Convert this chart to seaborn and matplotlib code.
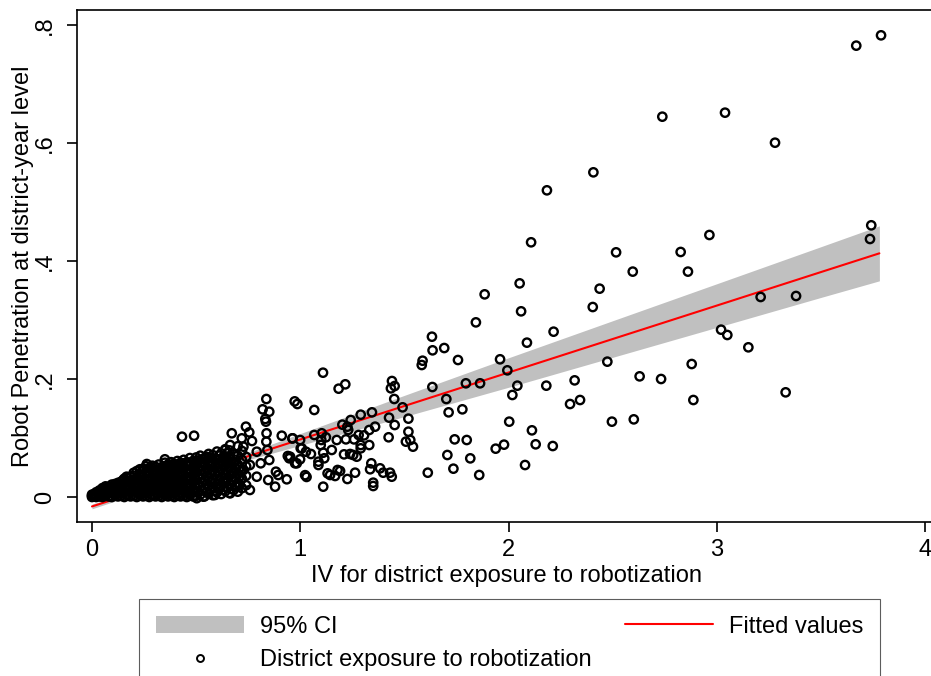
import matplotlib
matplotlib.use("Agg")
import matplotlib.pyplot as plt
import seaborn as sns
import pandas as pd
from matplotlib.patches import Patch
from matplotlib.lines import Line2D

sns.set_theme(style="ticks")
plt.rcParams['font.family'] = ['Liberation Sans', 'DejaVu Sans']
plt.rcParams.update({'axes.edgecolor': 'black', 'text.color': 'black',
                     'xtick.color': 'black', 'ytick.color': 'black',
                     'axes.labelcolor': 'black'})

# ---------------- data ----------------
# dense cluster near the origin (column by column)
dense_x = [0.000, 0.000, 0.000, 0.010, 0.010, 0.020, 0.020, 0.020,
           0.035, 0.035, 0.035, 0.050, 0.050, 0.050, 0.050,
           0.065, 0.065, 0.065, 0.065, 0.080, 0.080, 0.080, 0.080,
           0.095, 0.095, 0.095, 0.095, 0.110, 0.110, 0.110, 0.110,
           0.125, 0.125, 0.125, 0.125, 0.140, 0.140, 0.140, 0.140,
           0.155, 0.155, 0.155, 0.155, 0.155, 0.170, 0.170, 0.170, 0.170, 0.170,
           0.185, 0.185, 0.185, 0.185, 0.185,
           0.200, 0.200, 0.200, 0.200, 0.200, 0.200,
           0.215, 0.215, 0.215, 0.215, 0.215, 0.215,
           0.230, 0.230, 0.230, 0.230, 0.230, 0.230,
           0.245, 0.245, 0.245, 0.245, 0.245, 0.245,
           0.260, 0.260, 0.260, 0.260, 0.260, 0.260,
           0.275, 0.275, 0.275, 0.275, 0.275, 0.275,
           0.290, 0.290, 0.290, 0.290, 0.290, 0.290,
           0.305, 0.305, 0.305, 0.305, 0.305, 0.305,
           0.320, 0.320, 0.320, 0.320, 0.320, 0.320,
           0.335, 0.335, 0.335, 0.335, 0.335, 0.335,
           0.350, 0.350, 0.350, 0.350, 0.350, 0.350,
           0.365, 0.365, 0.365, 0.365, 0.365, 0.365,
           0.380, 0.380, 0.380, 0.380, 0.380, 0.380,
           0.395, 0.395, 0.395, 0.395, 0.395, 0.395,
           0.410, 0.410, 0.410, 0.410, 0.410, 0.410,
           0.425, 0.425, 0.425, 0.425, 0.425, 0.425,
           0.440, 0.440, 0.440, 0.440, 0.440, 0.440,
           0.455, 0.455, 0.455, 0.455, 0.455, 0.455,
           0.470, 0.470, 0.470, 0.470, 0.470, 0.470,
           0.485, 0.485, 0.485, 0.485, 0.485, 0.485,
           0.500, 0.500, 0.500, 0.500, 0.500, 0.500,
           0.520, 0.520, 0.520, 0.520, 0.520, 0.520,
           0.540, 0.540, 0.540, 0.540, 0.540, 0.540,
           0.560, 0.560, 0.560, 0.560, 0.560, 0.560,
           0.580, 0.580, 0.580, 0.580, 0.580, 0.580,
           0.600, 0.600, 0.600, 0.600, 0.600, 0.600,
           0.620, 0.620, 0.620, 0.620, 0.620, 0.620,
           0.640, 0.640, 0.640, 0.640, 0.640, 0.640,
           0.660, 0.660, 0.660, 0.660, 0.660, 0.660,
           0.680, 0.680, 0.680, 0.680, 0.680,
           0.700, 0.700, 0.700, 0.700, 0.700, 0.700,
           0.720, 0.720, 0.720, 0.720, 0.720,
           0.740, 0.740, 0.740, 0.740,
           # in-between columns
           0.3125, 0.3125, 0.3125, 0.3125,
           0.3425, 0.3425, 0.3425, 0.3425, 0.3425,
           0.3725, 0.3725, 0.3725, 0.3725, 0.3725,
           0.4025, 0.4025, 0.4025, 0.4025, 0.4025,
           0.4325, 0.4325, 0.4325, 0.4325, 0.4325,
           0.4625, 0.4625, 0.4625, 0.4625, 0.4625,
           0.4925, 0.4925, 0.4925, 0.4925, 0.4925,
           0.510, 0.510, 0.510, 0.510, 0.510,
           0.530, 0.530, 0.530, 0.530, 0.530,
           0.550, 0.550, 0.550, 0.550, 0.550,
           0.570, 0.570, 0.570, 0.570, 0.570,
           0.590, 0.590, 0.590, 0.590, 0.590,
           0.610, 0.610, 0.610, 0.610, 0.610,
           0.630, 0.630, 0.630, 0.630, 0.630,
           0.650, 0.650, 0.650, 0.650, 0.650,
           0.670, 0.670, 0.670, 0.670,
           0.690, 0.690, 0.690, 0.690,
           0.710, 0.710, 0.710]
dense_y = [0.000, 0.002, 0.004, 0.001, 0.005, 0.000, 0.004, 0.008,
           0.001, 0.006, 0.011, 0.000, 0.005, 0.010, 0.015,
           0.002, 0.008, 0.013, 0.018, 0.001, 0.006, 0.012, 0.017,
           0.000, 0.007, 0.014, 0.021, 0.003, 0.010, 0.017, 0.022,
           0.001, 0.008, 0.015, 0.024, 0.002, 0.009, 0.017, 0.026,
           0.000, 0.008, 0.016, 0.024, 0.031, 0.003, 0.011, 0.019, 0.027, 0.033,
           0.001, 0.009, 0.017, 0.025, 0.034,
           0.002, 0.010, 0.018, 0.027, 0.036, 0.041,
           0.000, 0.008, 0.016, 0.024, 0.033, 0.044,
           0.003, 0.011, 0.020, 0.029, 0.038, 0.047,
           0.001, 0.009, 0.018, 0.027, 0.036, 0.048,
           0.002, 0.012, 0.021, 0.031, 0.041, 0.052,
           0.000, 0.010, 0.019, 0.029, 0.040, 0.049,
           0.003, 0.013, 0.023, 0.033, 0.044, 0.053,
           0.001, 0.011, 0.021, 0.031, 0.042, 0.051,
           0.002, 0.012, 0.024, 0.035, 0.046, 0.055,
           0.000, 0.010, 0.020, 0.030, 0.041, 0.050,
           0.003, 0.014, 0.025, 0.036, 0.047, 0.058,
           0.001, 0.012, 0.022, 0.033, 0.044, 0.055,
           0.002, 0.013, 0.024, 0.036, 0.048, 0.059,
           0.000, 0.011, 0.022, 0.034, 0.045, 0.053,
           0.003, 0.015, 0.027, 0.039, 0.050, 0.061,
           0.001, 0.012, 0.024, 0.036, 0.048, 0.058,
           0.002, 0.014, 0.026, 0.038, 0.051, 0.063,
           0.000, 0.011, 0.023, 0.035, 0.047, 0.059,
           0.003, 0.015, 0.028, 0.040, 0.053, 0.066,
           0.001, 0.013, 0.025, 0.037, 0.049, 0.061,
           0.002, 0.016, 0.029, 0.043, 0.056, 0.067,
           0.004, 0.018, 0.031, 0.045, 0.058, 0.070,
           0.001, 0.014, 0.027, 0.041, 0.054, 0.066,
           0.006, 0.020, 0.034, 0.048, 0.061, 0.073,
           0.003, 0.017, 0.030, 0.044, 0.057, 0.071,
           0.008, 0.022, 0.036, 0.050, 0.064, 0.077,
           0.005, 0.019, 0.033, 0.047, 0.060, 0.074,
           0.010, 0.025, 0.039, 0.054, 0.068, 0.081,
           0.007, 0.021, 0.036, 0.050, 0.065, 0.079,
           0.012, 0.028, 0.043, 0.058, 0.072,
           0.009, 0.024, 0.040, 0.055, 0.070, 0.086,
           0.015, 0.031, 0.047, 0.063, 0.078,
           0.020, 0.036, 0.052, 0.068,
           # in-between columns
           0.006, 0.017, 0.028, 0.039,
           0.007, 0.019, 0.031, 0.042, 0.052,
           0.006, 0.018, 0.029, 0.040, 0.051,
           0.008, 0.020, 0.031, 0.043, 0.055,
           0.007, 0.019, 0.030, 0.042, 0.054,
           0.009, 0.021, 0.033, 0.045, 0.057,
           0.008, 0.020, 0.032, 0.044, 0.056,
           0.009, 0.023, 0.037, 0.050, 0.062,
           0.011, 0.025, 0.038, 0.052, 0.064,
           0.008, 0.021, 0.035, 0.049, 0.068,
           0.012, 0.026, 0.040, 0.053, 0.066,
           0.010, 0.024, 0.038, 0.051, 0.064,
           0.014, 0.028, 0.042, 0.056, 0.070,
           0.012, 0.026, 0.040, 0.054, 0.067,
           0.016, 0.031, 0.045, 0.060, 0.074,
           0.014, 0.029, 0.044, 0.059,
           0.018, 0.033, 0.048, 0.063,
           0.020, 0.035, 0.050]

# individually readable points
sparse_x = [3.669, 3.788, 2.738, 3.039, 3.279, 2.407, 2.184, 2.108, 2.516, 2.826,
            2.964, 3.741, 3.735, 2.596, 2.861, 2.053, 2.437, 2.060, 2.404, 2.216,
            2.088, 1.959, 1.994, 3.210, 3.380, 3.020, 3.050, 3.151, 2.474, 2.879,
            2.629, 2.732, 2.317, 2.042, 2.181, 2.018, 2.343, 2.295, 2.887, 3.330,
            2.003, 2.496, 2.601, 2.112, 1.978, 2.130, 2.212, 2.079,
            1.885, 1.843, 1.632, 1.635, 1.691, 1.757, 1.587, 1.583,
            1.634, 1.795, 1.863, 1.701, 1.712, 1.778, 1.741, 1.799, 1.706, 1.816,
            1.938, 1.612, 1.735, 1.859,
            1.109, 1.184, 1.216, 1.440, 1.435, 1.453, 1.451, 0.973, 0.986, 1.067,
            1.290, 1.344, 1.426, 1.519, 1.491, 1.202, 1.242, 1.226, 1.230, 0.963,
            1.067, 1.103, 1.101, 1.123, 1.098, 1.175, 1.219, 1.258, 1.280, 1.306,
            1.331, 1.359, 1.424, 1.453, 1.519, 1.507, 1.528, 1.541, 1.331, 1.290,
            1.290, 1.239, 1.210, 1.151, 1.110, 1.051, 1.027, 1.007, 0.951, 0.999,
            0.975, 1.087, 1.087, 1.115, 1.341, 1.383, 1.431, 1.439, 1.398, 1.191,
            1.143, 1.167, 1.226, 1.263, 1.350, 1.350, 1.110,
            1.023, 1.030, 0.999, 1.131, 1.179, 1.254, 1.271, 1.335,
            0.837, 0.819, 0.851, 0.832, 0.835, 0.490, 0.739, 0.755, 0.671, 0.719,
            0.768, 0.838, 0.837, 0.911, 0.962, 0.663, 0.727, 0.639, 0.791, 0.842,
            0.851, 0.810, 0.940, 0.947, 1.002, 0.983, 0.883, 0.894, 0.935, 0.758,
            0.727, 0.791, 0.846, 0.879, 0.678, 0.647, 0.606, 0.695, 0.758, 0.590,
            0.663, 0.534, 0.503,
            0.432, 0.350, 0.263, 0.240, 0.283, 0.390, 0.422, 0.451, 0.166, 0.110,
            0.054, 0.150]
sparse_y = [0.765, 0.7825, 0.6446, 0.6514, 0.6005, 0.5503, 0.5198, 0.4317, 0.4147, 0.4153,
            0.4441, 0.4605, 0.4373, 0.382, 0.382, 0.3621, 0.3531, 0.3147, 0.322, 0.2802,
            0.2616, 0.2334, 0.2147, 0.339, 0.3407, 0.2836, 0.2746, 0.2537, 0.2294, 0.2254,
            0.2045, 0.200, 0.1977, 0.1887, 0.1887, 0.1729, 0.1644, 0.1576, 0.1644, 0.1774,
            0.1277, 0.1277, 0.1316, 0.113, 0.0887, 0.0893, 0.0864, 0.0542,
            0.3435, 0.296, 0.2717, 0.2486, 0.2525, 0.2322, 0.231, 0.2237,
            0.1864, 0.1927, 0.1927, 0.1661, 0.1435, 0.1486, 0.0977, 0.0966, 0.0712, 0.0655,
            0.0819, 0.0412, 0.048, 0.0373,
            0.2107, 0.1836, 0.191, 0.1966, 0.1842, 0.1881, 0.1661, 0.1621, 0.1576, 0.1475,
            0.1395, 0.1435, 0.1345, 0.1328, 0.152, 0.1226, 0.1305, 0.1192, 0.1136, 0.0994,
            0.1051, 0.108, 0.0966, 0.1012, 0.0881, 0.0966, 0.0977, 0.0977, 0.1051, 0.1045,
            0.1136, 0.1192, 0.1012, 0.122, 0.1107, 0.0938, 0.0966, 0.0853, 0.0881, 0.0881,
            0.0825, 0.0729, 0.0723, 0.0797, 0.0751, 0.0729, 0.0768, 0.0825, 0.0683, 0.0639,
            0.0571, 0.0599, 0.0542, 0.0656, 0.0571, 0.0486, 0.0412, 0.0344, 0.0412, 0.0441,
            0.0373, 0.0356, 0.0305, 0.0412, 0.0243, 0.0186, 0.0175,
            0.037, 0.034, 0.0966, 0.0401, 0.0458, 0.0712, 0.0683, 0.047,
            0.1661, 0.1486, 0.1446, 0.1322, 0.1277, 0.1039, 0.1192, 0.1096, 0.108, 0.0994,
            0.0949, 0.108, 0.0938, 0.1039, 0.0994, 0.0881, 0.0853, 0.0797, 0.0768, 0.0797,
            0.0627, 0.0571, 0.0695, 0.0656, 0.0825, 0.0571, 0.0429, 0.0373, 0.030, 0.0542,
            0.0458, 0.0344, 0.0288, 0.0175, 0.0401, 0.0288, 0.0175, 0.0175, 0.0119, 0.0034,
            0.0062, 0.0006, -0.002,
            0.1022, 0.0639, 0.0559, 0.0435, 0.0503, 0.0559, 0.0559, 0.0571, 0.0344, 0.0203,
            0.0147, 0.0288]

# fitted line and its 95% confidence band
fit_x = [0.0, 0.25, 0.5, 0.75, 1.0, 1.5, 2.0, 2.5, 3.0, 3.5, 3.78]
fit_y = [-0.016, 0.0124, 0.0408, 0.0691, 0.0975, 0.1543, 0.211, 0.2678, 0.3245, 0.3813, 0.413]
ci_low = [-0.020, 0.0094, 0.0378, 0.0631, 0.0875, 0.1363, 0.186, 0.2368, 0.2875, 0.3383, 0.3664]
ci_high = [-0.012, 0.0154, 0.0438, 0.0751, 0.1075, 0.1723, 0.236, 0.2988, 0.3615, 0.4243, 0.4596]

x_ticks = [0, 1, 2, 3, 4]
x_ticklabels = ["0", "1", "2", "3", "4"]
y_ticks = [0, 0.2, 0.4, 0.6, 0.8]
y_ticklabels = ["0", ".2", ".4", ".6", ".8"]

# ---------------- figure ----------------
W, H = 931, 676
FS = 17
fig = plt.figure(figsize=(W / 100, H / 100), dpi=100)
ax = fig.add_axes([77 / W, (H - 522) / H, (935 - 77) / W, 512 / H])

ax.fill_between(fit_x, ci_low, ci_high, color="#C0C0C0", lw=0, zorder=1)
sns.lineplot(x=fit_x, y=fit_y, color="red", lw=1.5, ax=ax, zorder=2)

pts = pd.DataFrame({"x": dense_x + sparse_x, "y": dense_y + sparse_y})
sns.scatterplot(data=pts, x="x", y="y", ax=ax, s=36, marker="o",
                color="black", linewidth=1.7, zorder=3)
coll = ax.collections[-1]
coll.set_facecolor("none")
coll.set_edgecolor("black")
coll.set_linewidth(1.7)

ax.set_xlim(-15 / 208.3, (935 - 92) / 208.3)
ax.set_ylim(-25 / 590, 487 / 590)
ax.set_xticks(x_ticks)
ax.set_xticklabels(x_ticklabels)
ax.set_yticks(y_ticks)
ax.set_yticklabels(y_ticklabels, rotation=90, va="center")
ax.tick_params(axis="both", direction="out", length=7, width=1.2,
               labelsize=FS, bottom=True, left=True)
ax.tick_params(axis="x", pad=5)
ax.tick_params(axis="y", pad=8)
for s in ["left", "bottom", "top"]:
    ax.spines[s].set_linewidth(1.2)
    ax.spines[s].set_color("black")
ax.spines["right"].set_visible(False)

ax.set_xlabel("IV for district exposure to robotization", fontsize=FS, labelpad=3)
ax.set_ylabel("Robot Penetration at district-year level", fontsize=FS)
ax.yaxis.set_label_coords((34 - 77) / 858, 0.5)

handles = [Patch(facecolor="#C0C0C0", edgecolor="none"),
           Line2D([], [], marker="o", ls="none", mfc="none", mec="black", ms=5, mew=1.4),
           Line2D([], [], color="red", lw=1.5)]
labels = ["95% CI", "District exposure to robotization", "Fitted values"]
leg = ax.legend(handles, labels, ncol=2, loc="upper left", mode="expand",
                bbox_to_anchor=(139 / W, 1 - 599 / H - 0.01, 741 / W, 0.01),
                bbox_transform=fig.transFigure, borderaxespad=0,
                frameon=True, fancybox=False, fontsize=FS, handlelength=3.73,
                handleheight=0.76, handletextpad=0.68, labelspacing=0.5,
                borderpad=0.7, numpoints=1)
leg.get_frame().set_edgecolor("#333333")
leg.get_frame().set_linewidth(0.8)

fig.savefig("out.png", dpi=100)
